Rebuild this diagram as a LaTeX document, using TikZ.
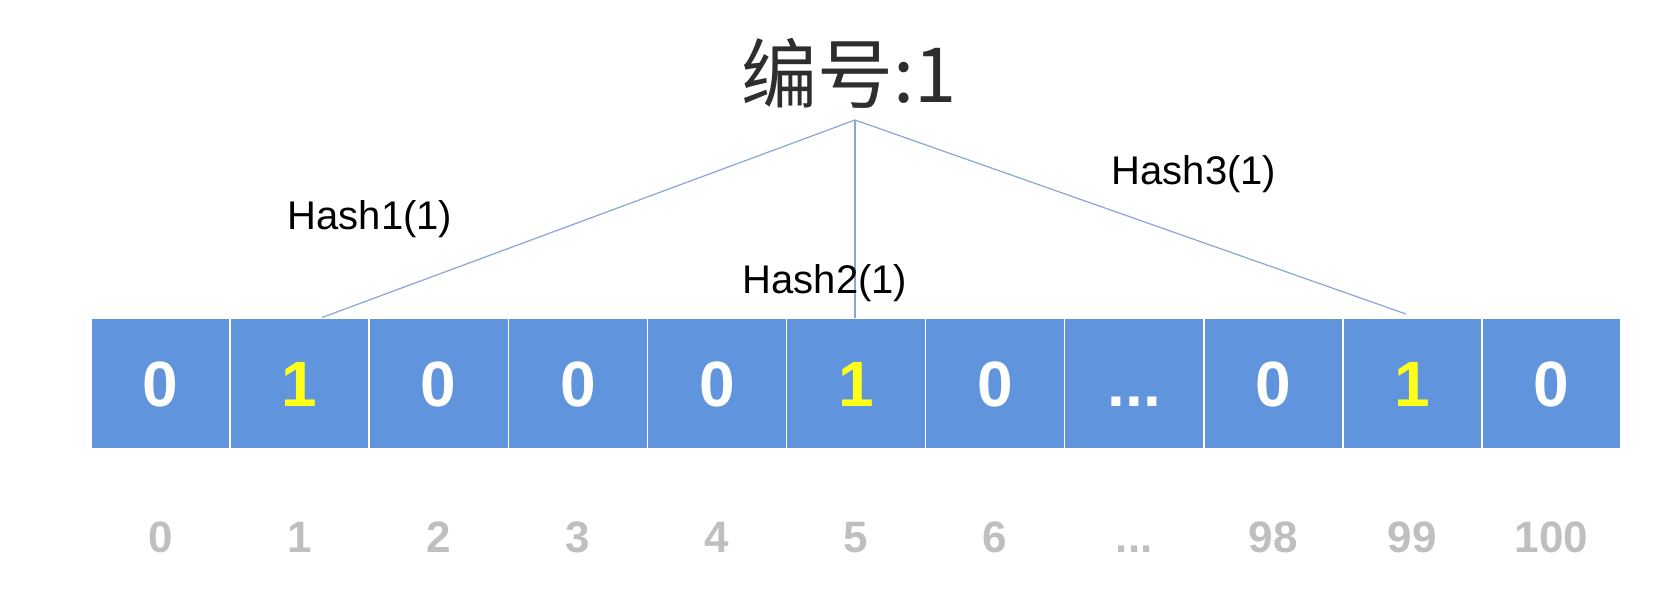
\documentclass[tikz,border=0pt]{standalone}
\usepackage{fontspec}
\setmainfont{Liberation Sans}
\newfontfamily\cjk{Noto Sans CJK SC}
\usetikzlibrary{positioning}
\definecolor{cellBlue}{HTML}{6095DD}
\definecolor{bitYellow}{HTML}{FFFF1A}
\definecolor{idxGray}{HTML}{BFBFBF}
\definecolor{titleGray}{HTML}{2E2E2E}
\definecolor{hashLine}{HTML}{8AA5D6}
\newcommand{\gapdots}{...}
\tikzset{
  cell/.style={fill=cellBlue, draw=white, line width=1.5pt, minimum width=139.1pt,
    minimum height=131pt, inner sep=0pt, text height=46pt, text depth=0pt,
    font=\bfseries\fontsize{64}{70}\selectfont},
  idxlabel/.style={text=idxGray, text height=32pt, text depth=0pt,
    font=\bfseries\fontsize{44}{50}\selectfont},
  hashlabel/.style={font=\fontsize{40}{46}\selectfont},
  hashline/.style={draw=hashLine, line width=1.2pt}
}

\begin{document}
\begin{tikzpicture}[x=1pt, y=-1pt]
    \useasboundingbox (0,0) rectangle (1676,598);
    % bit array with its positions
    \foreach \val/\col/\idx [count=\i from 0] in {
      0/white/0, 1/bitYellow/1, 0/white/2, 0/white/3, 0/white/4, 1/bitYellow/5,
      0/white/6, \gapdots/white/\gapdots, 0/white/98, 1/bitYellow/99, 0/white/100
    }{
      \node[cell, text=\col] (c\i) at (160.5+\i*139.1, 383.5) {\val};
      \node[idxlabel] (i\i) at (160.5+\i*139.1, 536) {\idx};
    }
    % element and its three hashes
    \node[text=titleGray, font=\cjk\fontsize{76}{84}\selectfont] (elem) at (849, 73) {编号:1};
    \coordinate (apex) at (855, 120);
    \coordinate (h1) at (322, 317.5);
    \coordinate (h2) at (855, 317.5);
    \coordinate (h3) at (1406, 314);
    \draw[hashline] (apex) -- (h1);
    \draw[hashline] (apex) -- (h2);
    \draw[hashline] (apex) -- (h3);
    \node[hashlabel] (lab1) at (370, 219) {Hash1(1)};
    \node[hashlabel] (lab2) at (825, 283) {Hash2(1)};
    \node[hashlabel] (lab3) at (1194, 174) {Hash3(1)};
\end{tikzpicture}
\end{document}
